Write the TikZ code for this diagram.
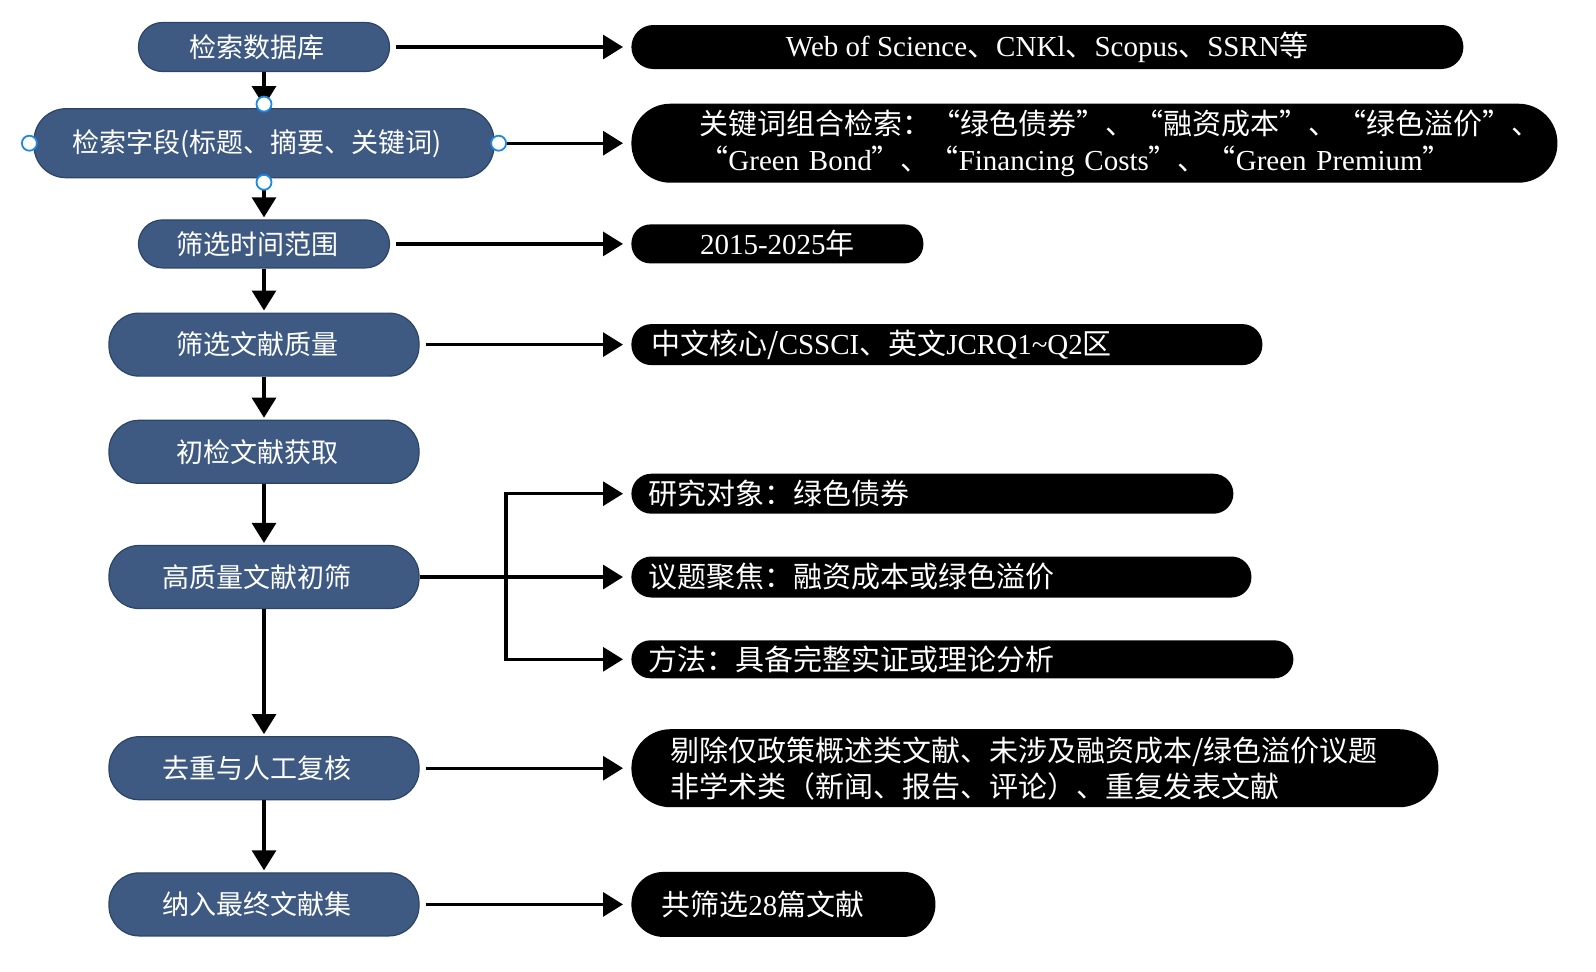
\documentclass[tikz,border=0pt]{standalone}
\usepackage{fontspec}
\setmainfont{Noto Sans CJK SC}
\newfontfamily\lat{Liberation Serif}
\usetikzlibrary{arrows.meta,positioning}
\definecolor{vblue}{HTML}{3E5A82}
\definecolor{vedge}{HTML}{2C4466}
\definecolor{vhandle}{HTML}{1E88E5}
\newcommand{\entxt}[1]{{\lat #1}}
\tikzset{
  flow/.style={fill=vblue,draw=vedge,line width=0.6pt,rounded corners=15pt,text=white,font=\fontsize{13.5}{16}\selectfont,minimum width=155pt,minimum height=31.5pt,inner sep=2pt,execute at end node=\hspace*{7pt}},
  res/.style={fill=black,rounded corners=#1,text=white,font=\fontsize{14.5}{18}\selectfont,inner ysep=0pt,inner xsep=0pt,anchor=west},
  res/.default=10pt,
  arr/.style={-{Triangle[length=10pt,width=12pt]},line width=1.6pt},
  ln/.style={line width=1.6pt},
  hdl/.style={circle,draw=vhandle,fill=white,line width=0.9pt,inner sep=0pt,minimum size=7.5pt},
}
\begin{document}
\begin{tikzpicture}[x=0.5pt,y=-0.5pt]
  \useasboundingbox (0,0) rectangle (1596,971);
  % left column
  \node[flow,minimum width=125.5pt,minimum height=24.5pt,rounded corners=12pt] (n1) at (264,47) {检索数据库};
  \node[flow,minimum width=230pt,minimum height=34.5pt,rounded corners=16pt,below=18pt of n1] (n2) {检索字段(标题、摘要、关键词)};
  \node[flow,minimum width=125.5pt,minimum height=24pt,rounded corners=12pt,below=20.5pt of n2] (n3) {筛选时间范围};
  \node[flow,below=22pt of n3] (n4) {筛选文献质量};
  \node[flow,below=21.5pt of n4] (n5) {初检文献获取};
  \node[flow,below=30.5pt of n5] (n6) {高质量文献初筛};
  \node[flow,below=63.5pt of n6] (n7) {去重与人工复核};
  \node[flow,below=36pt of n7] (n8) {纳入最终文献集};
  % right column
  \coordinate (rx) at (631,0);
  \coordinate (bx) at (506,0);
  \node[res=11pt,minimum width=416pt,minimum height=22pt] (r1) at (rx |- n1) {\entxt{Web of Science}、\entxt{CNKl}、\entxt{Scopus}、\entxt{SSRN}等};
  \node[res=19.5pt,minimum height=39.5pt,inner xsep=34pt,text width=395pt,align=left] (r2) at (rx |- n2) {关键词组合检索：“绿色债券”、“融资成本”、“绿色溢价”、\\“\entxt{Green Bond}”、“\entxt{Financing Costs}”、“\entxt{Green Premium}”};
  \node[res=9.5pt,minimum width=146pt,minimum height=19.5pt] (r3) at (rx |- n3) {\entxt{2015-2025}年};
  \node[res=10pt,minimum height=20.5pt,inner xsep=10pt,text width=295.5pt,align=left] (r4) at (rx |- n4) {中文核心/\entxt{CSSCI}、英文\entxt{JCRQ1\textasciitilde Q2}区};
  \node[res=10pt,minimum height=20.5pt,inner xsep=8.5pt,text width=293pt,align=left] (r5b) at (rx |- n6) {议题聚焦：融资成本或绿色溢价};
  \node[res=10pt,minimum height=20pt,inner xsep=8.5pt,text width=284pt,align=left,above=21pt of r5b.north west,anchor=south west] (r5a) {研究对象：绿色债券};
  \node[res=9.5pt,minimum height=19pt,inner xsep=8.5pt,text width=314pt,align=left,below=21pt of r5b.south west,anchor=north west] (r5c) {方法：具备完整实证或理论分析};
  \node[res=19.5pt,minimum height=39pt,inner xsep=19.5pt,text width=364.5pt,align=left] (r6) at (rx |- n7) {剔除仅政策概述类文献、未涉及融资成本/绿色溢价议题\\非学术类（新闻、报告、评论）、重复发表文献};
  \node[res=16pt,minimum height=32.5pt,inner xsep=15pt,text width=122pt,align=left] (r7) at (rx |- n8) {共筛选\entxt{28}篇文献};
  % connectors
  \foreach \a/\b in {n1/n2,n2/n3,n3/n4,n4/n5,n5/n6,n6/n7,n7/n8}
    \draw[arr,shorten >=1pt] (\a) -- (\b);
  \foreach \a/\b in {n1/r1,n2/r2,n3/r3,n4/r4,n7/r6,n8/r7}
    \draw[arr,shorten <=3pt,shorten >=4pt] (\a.east) -- (\a.east -| \b.west);
  \draw[ln] (n6.east) -- (bx |- n6);
  \foreach \b in {r5a,r5b,r5c}
    \draw[arr,shorten >=4pt] (bx |- n6) |- (\b.west);
  % selection handles
  \node[hdl] (h1) at ([yshift=2pt]n2.north) {};
  \node[hdl] (h2) at ([yshift=-2pt]n2.south) {};
  \node[hdl] (h3) at ([xshift=-2pt]n2.west) {};
  \node[hdl] (h4) at ([xshift=2pt]n2.east) {};
\end{tikzpicture}
\end{document}
